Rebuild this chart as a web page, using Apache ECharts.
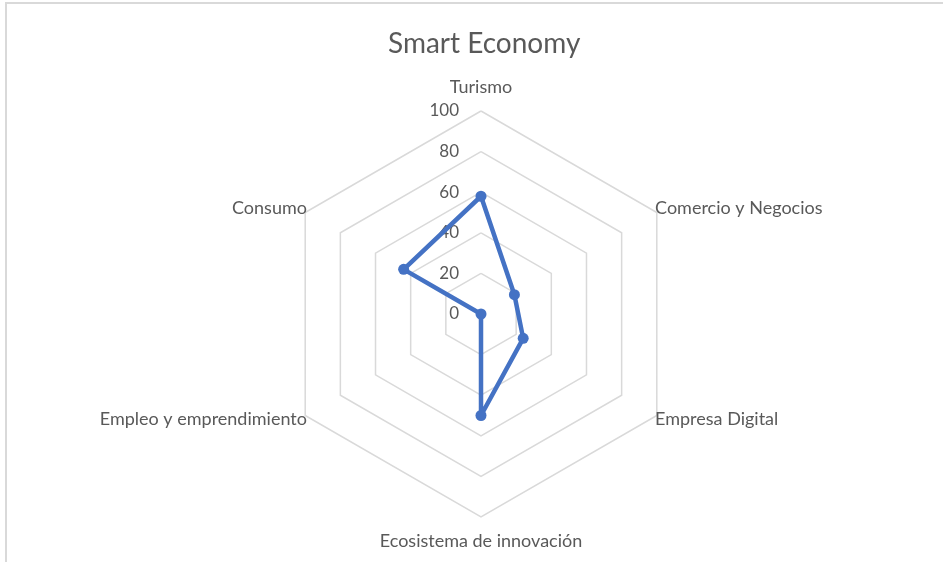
<!DOCTYPE html>
<html>
<head>
<meta charset="utf-8">
<script src="https://cdn.jsdelivr.net/npm/echarts@6/dist/echarts.min.js"></script>
<style>
html, body { margin: 0; padding: 0; background: #fff; }
#frame { position: absolute; left: 5px; top: 2px; width: 938px; height: 560px;
  border-top: 2px solid #d9d9d9; border-left: 2px solid #d9d9d9; }
#main { position: absolute; left: 0; top: 0; width: 943px; height: 562px; }
</style>
</head>
<body>
<div id="frame"></div>
<div id="main"></div>
<script>
// clockwise order, as in the source chart
var categories = ['Turismo', 'Comercio y Negocios', 'Empresa Digital',
    'Ecosistema de innovación', 'Empleo y emprendimiento', 'Consumo'];
var values = [58, 19, 24, 50, 0, 44];
var axisMax = 100;
var axisStep = 20;

// echarts places indicators counter-clockwise, so keep the first and reverse the rest
var order = [0].concat(categories.map(function (c, i) { return i; }).slice(1).reverse());

var indicator = order.map(function (i, k) {
    var ind = { name: categories[i], min: 0, max: axisMax, nameGap: (i === 0 || i === 3) ? 15 : -2 };
    if (k === 0) {
        ind.axisLabel = {
            show: true, color: '#595959', fontSize: 17, fontFamily: 'Lato',
            margin: 22, align: 'right', verticalAlign: 'middle',
            formatter: function (v) { return v; }
        };
    }
    return ind;
});

var nameStyle = { color: '#595959', fontSize: 18, fontFamily: 'Lato' };

var myChart = echarts.init(document.getElementById('main'));
var option = {
    animation: false,
    title: {
        text: 'Smart Economy',
        left: 383,
        top: 25,
        textStyle: { color: '#595959', fontSize: 28, fontWeight: 'normal', fontFamily: 'Lato' }
    },
    radar: {
        center: [481, 314],
        radius: 203,
        startAngle: 90,
        splitNumber: axisMax / axisStep,
        shape: 'polygon',
        axisName: {
            color: '#595959', fontSize: 18, fontFamily: 'Lato',
            // side names: upper ones a bit higher, lower ones a bit lower
            formatter: function (name) {
                var i = categories.indexOf(name);
                if (i === 1 || i === 5) return '{up|' + name + '}';
                if (i === 2 || i === 4) return '{down|' + name + '}';
                return name;
            },
            rich: {
                up: Object.assign({ padding: [0, 0, 10, 0] }, nameStyle),
                down: Object.assign({ padding: [10, 0, 0, 0] }, nameStyle)
            }
        },
        axisLine: { show: false },
        axisTick: { show: false },
        splitLine: { lineStyle: { color: '#d9d9d9', width: 1.5 } },
        splitArea: { show: false },
        indicator: indicator
    },
    series: [{
        type: 'radar',
        symbol: 'circle',
        symbolSize: 11,
        lineStyle: { color: '#4472c4', width: 4.5 },
        itemStyle: { color: '#4472c4' },
        data: [{ value: order.map(function (i) { return values[i]; }) }]
    }]
};
myChart.setOption(option);
window.onresize = function () {
    myChart.resize();
};
</script>
</body>
</html>
